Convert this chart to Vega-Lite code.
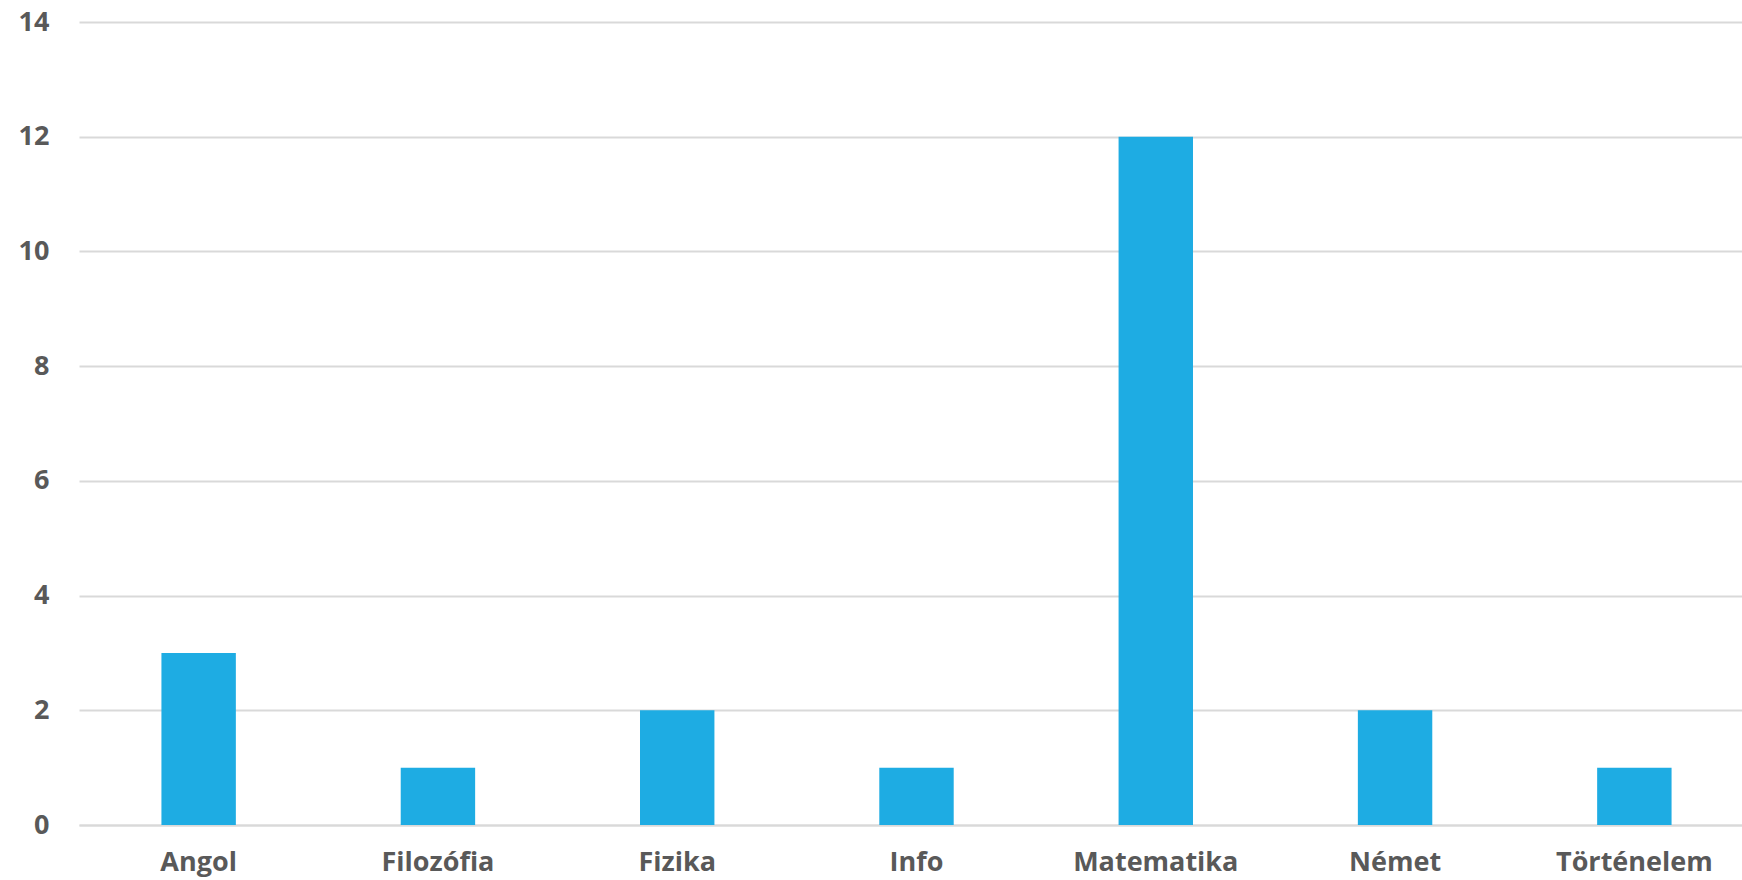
{
  "$schema": "https://vega.github.io/schema/vega-lite/v6.json",
  "autosize": {"type": "none"},
  "padding": {"left": 79, "top": 22, "right": 0, "bottom": 55},
  "width": 1675,
  "height": 803,
  "background": "white",
  "config": {"view": {"stroke": null}},
  "data": {"values": [
    {"targy": "Angol", "db": 3},
    {"targy": "Filozófia", "db": 1},
    {"targy": "Fizika", "db": 2},
    {"targy": "Info", "db": 1},
    {"targy": "Matematika", "db": 12},
    {"targy": "Német", "db": 2},
    {"targy": "Történelem", "db": 1}
  ]},
  "mark": {"type": "bar", "color": "#1EACE3"},
  "encoding": {
    "x": {"field": "targy", "type": "nominal", "sort": null,
      "scale": {"paddingInner": 0.689, "paddingOuter": 0.3445},
      "axis": {"title": null, "labelAngle": 0, "ticks": false, "domain": true, "domainColor": "#d9d9d9", "domainWidth": 2,
        "labelFont": "Open Sans", "labelFontWeight": "bold", "labelFontSize": 27, "labelColor": "#595959", "labelPadding": 24}},
    "y": {"field": "db", "type": "quantitative",
      "scale": {"domain": [0, 14], "nice": false},
      "axis": {"title": null, "values": [0, 2, 4, 6, 8, 10, 12, 14], "ticks": false, "domain": false,
        "grid": true, "gridColor": "#d9d9d9", "gridWidth": 2,
        "labelFont": "Open Sans", "labelFontWeight": "bold", "labelFontSize": 27, "labelColor": "#595959", "labelPadding": 30}}
  }
}
